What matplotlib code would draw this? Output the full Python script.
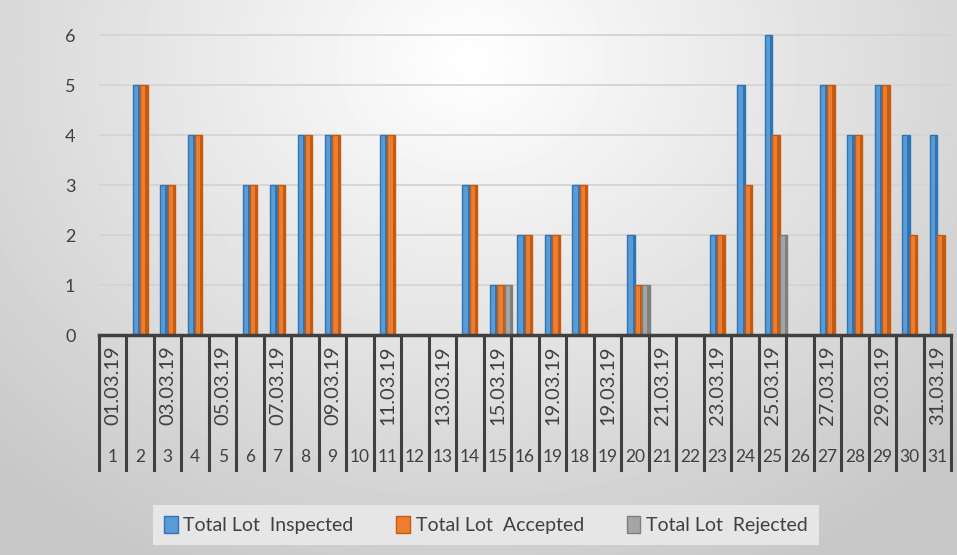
import numpy as np
import matplotlib.pyplot as plt
from matplotlib.patches import Patch

plt.rcParams['font.family'] = ['Lato', 'DejaVu Sans']

# data
day_labels = ['1', '2', '3', '4', '5', '6', '7', '8', '9', '10', '11', '12', '13', '14', '15', '16',
              '19', '18', '19', '20', '21', '22', '23', '24', '25', '26', '27', '28', '29', '30', '31']
date_labels = ['01.03.19', '', '03.03.19', '', '05.03.19', '', '07.03.19', '', '09.03.19', '',
               '11.03.19', '', '13.03.19', '', '15.03.19', '', '19.03.19', '', '19.03.19', '',
               '21.03.19', '', '23.03.19', '', '25.03.19', '', '27.03.19', '', '29.03.19', '', '31.03.19']
inspected = [0, 5, 3, 4, 0, 3, 3, 4, 4, 0, 4, 0, 0, 3, 1, 2, 2, 3, 0, 2, 0, 0, 2, 5, 6, 0, 5, 4, 5, 4, 4]
accepted = [0, 5, 3, 4, 0, 3, 3, 4, 4, 0, 4, 0, 0, 3, 1, 2, 2, 3, 0, 1, 0, 0, 2, 3, 4, 0, 5, 4, 5, 2, 2]
rejected = [0, 0, 0, 0, 0, 0, 0, 0, 0, 0, 0, 0, 0, 0, 1, 0, 0, 0, 0, 1, 0, 0, 0, 0, 2, 0, 0, 0, 0, 0, 0]
series_names = ['Total Lot  Inspected', 'Total Lot  Accepted', 'Total Lot  Rejected']

W, H = 957, 555
fig = plt.figure(figsize=(W / 100, H / 100), dpi=100)

# background gradient (white top-centre, grey towards the edges)
bg = fig.add_axes([0, 0, 1, 1], zorder=-10)
yy, xx = np.mgrid[0:H, 0:W]
d = np.sqrt(((xx - 470) / 620.0) ** 2 + ((yy - 60) / 520.0) ** 2)
shade = np.clip(1.0 - 0.2 * d, 0.78, 1.0)
bg.imshow(shade, cmap='gray', vmin=0, vmax=1, aspect='auto', extent=[0, W, H, 0])
bg.axis('off')

ax = fig.add_axes([99 / W, 1 - 335 / H, 852 / W, 315 / H])
ax.patch.set_alpha(0)

x = np.arange(1, 32)
bw = 0.27
cols = [('#5B9BD5', '#2E75B6'), ('#ED7D31', '#C55A11'), ('#A5A5A5', '#7F7F7F')]
for k, vals in enumerate([inspected, accepted, rejected]):
    face, dark = cols[k]
    pos = x - 0.14 + k * bw
    ax.bar(pos, vals, width=bw, color=face, edgecolor=dark, linewidth=1.0, zorder=3 + k)
    # darker side face for a 3D look
    ax.bar(pos + bw / 2 - 0.04, vals, width=0.08, color=dark, linewidth=0, zorder=3 + k)

ax.set_xlim(0.5, 31.5)
ax.set_ylim(0, 6.3)
ax.set_yticks(range(7))
ax.tick_params(axis='y', length=0, pad=17, labelsize=13, labelcolor='#404040')
ax.set_xticks([])
ax.yaxis.grid(True, color='#d4d4d4', linewidth=1.3, zorder=0)
ax.set_axisbelow(True)
for s in ['top', 'right', 'left']:
    ax.spines[s].set_visible(False)
ax.spines['bottom'].set_color('#404040')
ax.spines['bottom'].set_linewidth(2.5)
ax.spines['bottom'].set_zorder(10)

# two-level category axis
tr = ax.get_xaxis_transform()
for b in np.arange(0.5, 32, 1.0):
    ax.plot([b, b], [0, -0.4286], transform=tr, color='#404040', lw=2.2, clip_on=False)
for xi, dl, nl in zip(x, date_labels, day_labels):
    if dl:
        ax.text(xi, -0.16, dl, transform=tr, rotation=90, ha='center', va='center',
                fontsize=14.5, color='#404040', clip_on=False)
    ax.text(xi, -0.387, nl, transform=tr, ha='center', va='center',
            fontsize=12.5, color='#404040', clip_on=False)

handles = [Patch(facecolor=f, edgecolor=e, label=n) for (f, e), n in zip(cols, series_names)]
leg = fig.legend(handles=handles, loc='center', bbox_to_anchor=(486 / W, 1 - 525 / H), ncol=3,
                 fontsize=14, frameon=True, fancybox=False, handlelength=0.7, handleheight=1.0,
                 handletextpad=0.3, columnspacing=2.2, borderpad=0.55)
leg.get_frame().set_facecolor('#e6e6e6')
leg.get_frame().set_edgecolor('none')
leg.get_frame().set_alpha(1)
for t in leg.get_texts():
    t.set_color('#404040')

fig.savefig('out.png', dpi=100)
